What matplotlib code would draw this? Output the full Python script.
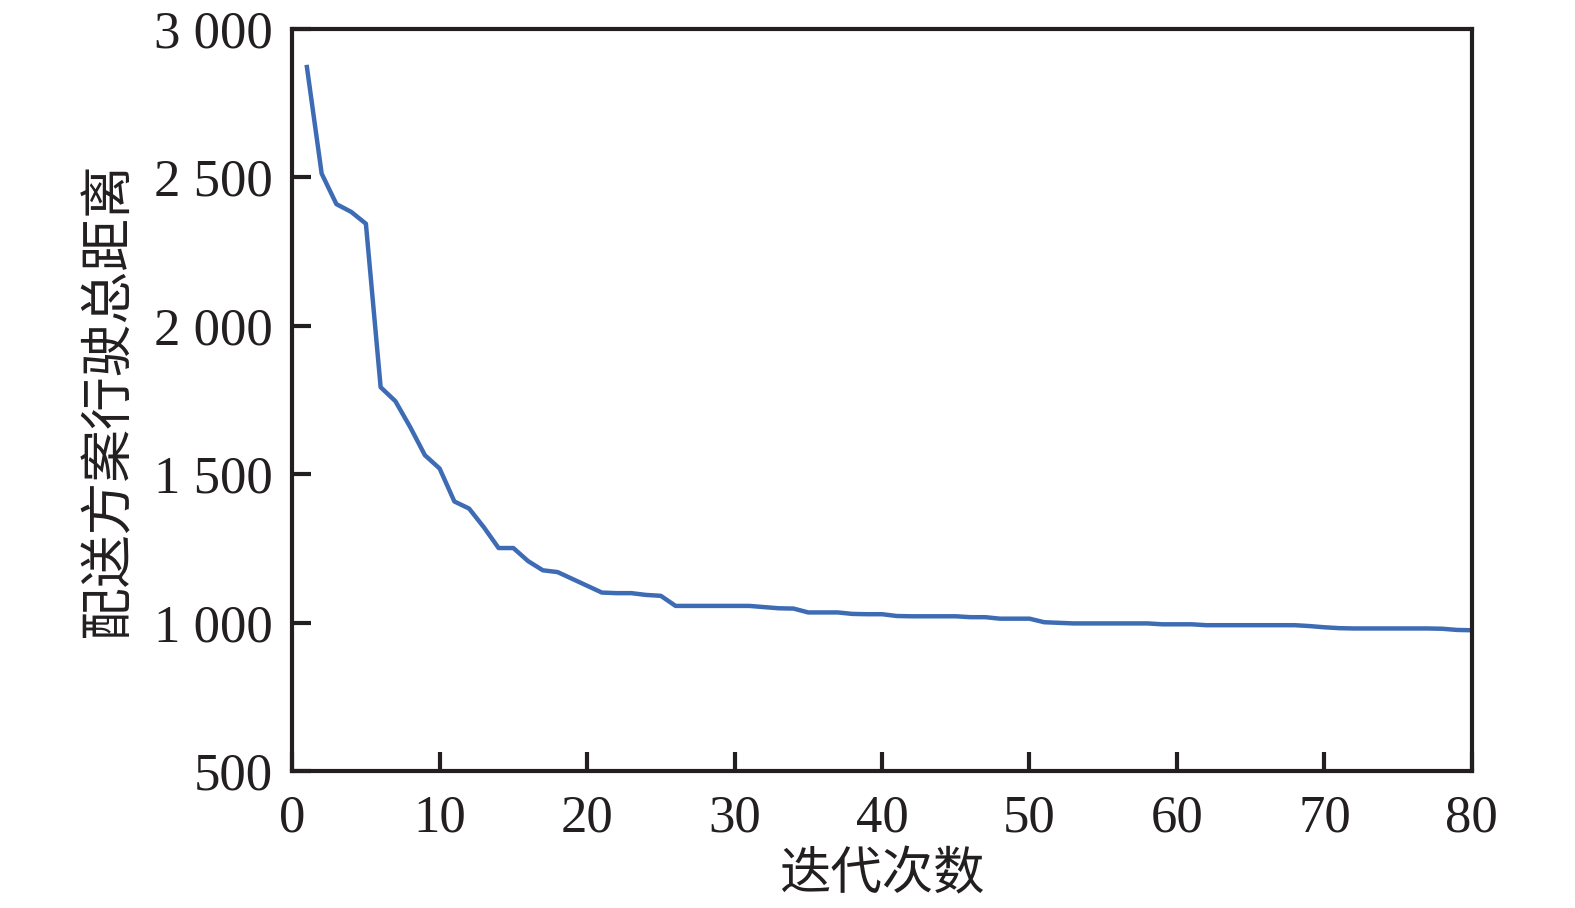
import matplotlib.pyplot as plt
from matplotlib.ticker import FuncFormatter

# iteration number and total delivery distance
iterations = list(range(1, 81))
distance = [
    2872, 2513, 2410, 2384, 2344, 1793, 1746, 1659, 1564, 1519,
    1408, 1384, 1321, 1251, 1251, 1207, 1176, 1170, 1147, 1124,
    1101, 1099, 1099, 1093, 1090, 1056, 1056, 1056, 1056, 1056,
    1056, 1052, 1048, 1047, 1034, 1034, 1034, 1029, 1028, 1028,
    1022, 1021, 1021, 1021, 1021, 1018, 1018, 1013, 1013, 1013,
    1001, 999, 997, 997, 997, 997, 997, 997, 994, 994,
    994, 991, 991, 991, 991, 991, 991, 991, 988, 984,
    981, 980, 980, 980, 980, 980, 980, 979, 975, 974,
]
x_ticks = [0, 10, 20, 30, 40, 50, 60, 70, 80]
y_ticks = [500, 1000, 1500, 2000, 2500, 3000]

plt.rcParams['font.family'] = ['Liberation Serif', 'Noto Sans CJK SC']
cjk = ['Noto Sans CJK SC']

fig = plt.figure(figsize=(15.75, 9.08), dpi=100)
ax = fig.add_axes([0.1855, 0.1510, 0.7490, 0.8170])

ax.plot(iterations, distance, color='#3d6cb5', linewidth=3.2)

ax.set_xlim(0, 80)
ax.set_ylim(500, 3000)
ax.set_xticks(x_ticks)
ax.set_yticks(y_ticks)
ax.yaxis.set_major_formatter(FuncFormatter(lambda v, p: f'{v:,.0f}'.replace(',', ' ')))

for s in ax.spines.values():
    s.set_linewidth(3)
    s.set_color('#231f20')
ax.tick_params(direction='in', length=14, width=3, color='#231f20',
               labelsize=38, labelcolor='#231f20')
ax.tick_params(axis='y', pad=14)
ax.tick_params(axis='x', pad=17)

ax.set_xlabel('迭代次数', family=cjk, fontsize=37, color='#231f20', labelpad=4)
ax.set_ylabel('配送方案行驶总距离', family=cjk, fontsize=38, color='#231f20', labelpad=13)

fig.savefig('out.png', dpi=100)
